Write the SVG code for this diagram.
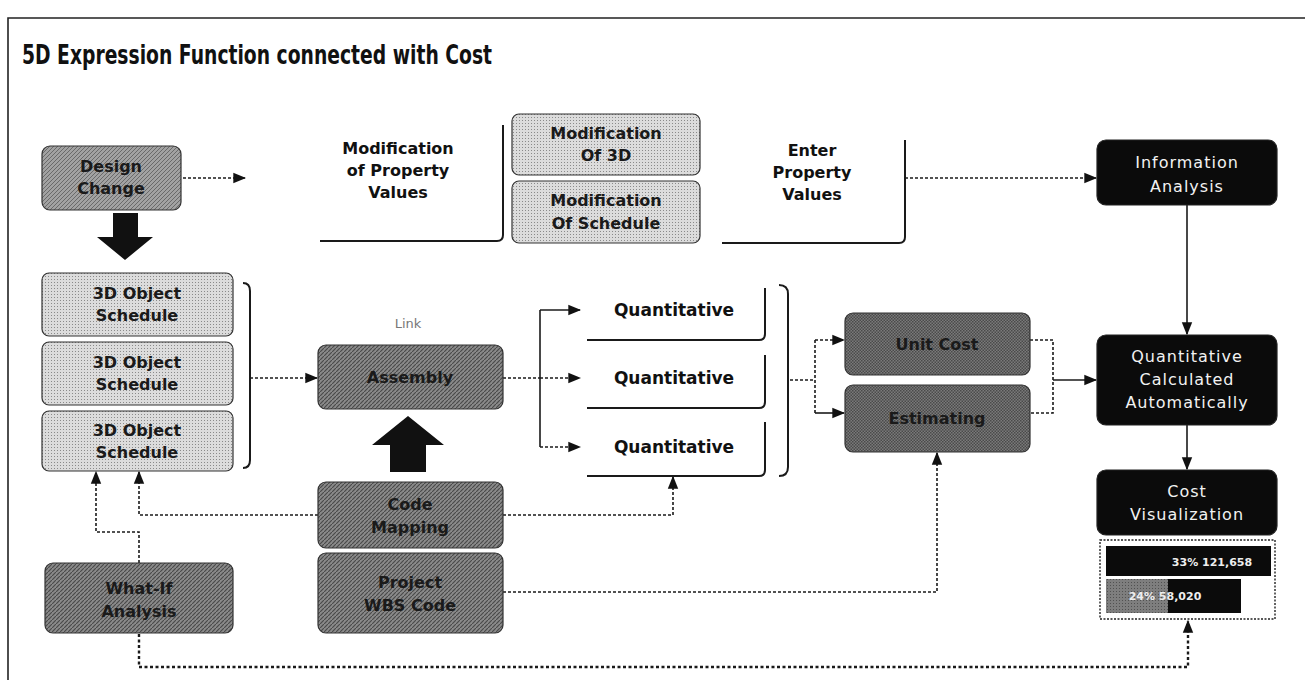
<svg xmlns="http://www.w3.org/2000/svg" width="1305" height="680" viewBox="0 0 1305 680">
  <defs>
    <pattern id="dotLight" width="3" height="3" patternUnits="userSpaceOnUse">
      <rect width="3" height="3" fill="#dcdcdc"/>
      <rect width="1" height="1" fill="#8a8a8a"/>
    </pattern>
    <pattern id="hatchMid" width="4" height="4" patternUnits="userSpaceOnUse">
      <rect width="4" height="4" fill="#a2a2a2"/>
      <path d="M0,4 L4,0" stroke="#6a6a6a" stroke-width="1"/>
    </pattern>
    <pattern id="hatchDark" width="4" height="4" patternUnits="userSpaceOnUse">
      <rect width="4" height="4" fill="#8a8a8a"/>
      <path d="M0,4 L4,0" stroke="#4a4a4a" stroke-width="1.2"/>
    </pattern>
    <pattern id="checkDark" width="3" height="3" patternUnits="userSpaceOnUse">
      <rect width="3" height="3" fill="#7a7a7a"/>
      <rect width="1.5" height="1.5" fill="#4a4a4a"/>
      <rect x="1.5" y="1.5" width="1.5" height="1.5" fill="#4a4a4a"/>
    </pattern>
    <marker id="arr" viewBox="0 0 10 10" refX="9" refY="5" markerWidth="13" markerHeight="13" orient="auto" markerUnits="userSpaceOnUse">
      <path d="M0,1 L10,5 L0,9 Z" fill="#111"/>
    </marker>
    <style>
      text { font-family: "DejaVu Sans", "Liberation Sans", sans-serif; text-anchor: middle; }
      .title { font-size: 27px; font-weight: bold; text-anchor: start; fill: #111; }
      .lbl { font-size: 16px; font-weight: bold; fill: #1a1a1a; }
      .plain { font-size: 16px; font-weight: bold; fill: #111; }
      .quant { font-size: 17px; font-weight: bold; fill: #111; }
      .wht { font-size: 16px; fill: #f2f2f2; letter-spacing: 1px; }
      .link { font-size: 13px; fill: #777; }
      .chart { font-size: 11px; fill: #eee; font-weight: bold; }
      .box { stroke: #333; stroke-width: 1.2; }
      .blk { fill: #0b0b0b; stroke: #222; stroke-width: 1.2; }
      .brk { fill: none; stroke: #1a1a1a; stroke-width: 2; }
      .dot { fill: none; stroke: #1a1a1a; stroke-width: 1.6; stroke-dasharray: 3 2; }
      .sol { fill: none; stroke: #1a1a1a; stroke-width: 1.6; }
      .heavy { fill: none; stroke: #1a1a1a; stroke-width: 2.4; stroke-dasharray: 3 2.5; }
      .big { fill: #111; }
    </style>
  </defs>

  <rect width="1305" height="680" fill="#ffffff"/>

  <!-- frame -->
  <path d="M8,680 V18 H1305" fill="none" stroke="#222" stroke-width="1.6"/>

  <text class="title" x="22" y="64" textLength="470" lengthAdjust="spacingAndGlyphs">5D Expression Function connected with Cost</text>

  <!-- connectors -->
  <g id="connectors">
    <line class="dot" x1="183" y1="178" x2="245" y2="178" marker-end="url(#arr)"/>
    <line class="dot" x1="905" y1="178" x2="1096" y2="178" marker-end="url(#arr)"/>
    <line class="sol" x1="1187" y1="205" x2="1187" y2="334" marker-end="url(#arr)"/>
    <line class="sol" x1="1187" y1="425" x2="1187" y2="469" marker-end="url(#arr)"/>
    <!-- schedules into assembly -->
    <line class="dot" x1="250" y1="378" x2="317" y2="378" marker-end="url(#arr)"/>
    <!-- assembly fan-out -->
    <path class="dot" d="M503,378 H540"/>
    <path class="sol" d="M540,310 V447"/>
    <line class="sol" x1="540" y1="310" x2="580" y2="310" marker-end="url(#arr)"/>
    <line class="dot" x1="540" y1="378" x2="580" y2="378" marker-end="url(#arr)"/>
    <line class="dot" x1="540" y1="447" x2="580" y2="447" marker-end="url(#arr)"/>
    <!-- quantities to cost -->
    <path class="dot" d="M790,380 H815"/>
    <path class="dot" d="M815,340 V413"/>
    <line class="dot" x1="815" y1="340" x2="844" y2="340" marker-end="url(#arr)"/>
    <line class="sol" x1="815" y1="413" x2="844" y2="413" marker-end="url(#arr)"/>
    <path class="dot" d="M1030,340 H1053 V413 H1030"/>
    <line class="sol" x1="1053" y1="380" x2="1096" y2="380" marker-end="url(#arr)"/>
    <!-- code mapping -->
    <path class="dot" d="M318,515 H139 V472" marker-end="url(#arr)"/>
    <path class="dot" d="M503,515 H673 V477" marker-end="url(#arr)"/>
    <!-- what-if -->
    <path class="dot" d="M139,563 V532 H96 V472" marker-end="url(#arr)"/>
    <!-- project wbs code -->
    <path class="dot" d="M503,592 H937 V453" marker-end="url(#arr)"/>
    <!-- feedback to chart -->
    <path class="heavy" d="M139,634 V667 H1188 V621" marker-end="url(#arr)"/>
  </g>

  <!-- big block arrows -->
  <polygon class="big" points="113,213 138,213 138,237 153,237 125,260 97,237 113,237"/>
  <polygon class="big" points="408,416 444,445 426,445 426,472 390,472 390,445 372,445"/>

  <g id="design-change">
    <rect class="box" x="42" y="146" width="139" height="64" rx="8" fill="url(#hatchMid)"/>
    <text class="lbl" x="111" y="172">Design</text>
    <text class="lbl" x="111" y="194">Change</text>
  </g>

  <g id="modification-property">
    <text class="plain" x="398" y="154">Modification</text>
    <text class="plain" x="398" y="176">of Property</text>
    <text class="plain" x="398" y="198">Values</text>
    <path class="brk" d="M320,241 H497 Q503,241 503,235 V125"/>
  </g>

  <g id="modification-3d">
    <rect class="box" x="512" y="114" width="188" height="61" rx="7" fill="url(#dotLight)"/>
    <text class="lbl" x="606" y="139">Modification</text>
    <text class="lbl" x="606" y="161">Of 3D</text>
  </g>

  <g id="modification-schedule">
    <rect class="box" x="512" y="181" width="188" height="62" rx="7" fill="url(#dotLight)"/>
    <text class="lbl" x="606" y="206">Modification</text>
    <text class="lbl" x="606" y="229">Of Schedule</text>
  </g>

  <g id="enter-property">
    <text class="plain" x="812" y="156">Enter</text>
    <text class="plain" x="812" y="178">Property</text>
    <text class="plain" x="812" y="200">Values</text>
    <path class="brk" d="M722,243 H899 Q905,243 905,237 V140"/>
  </g>

  <g id="information-analysis">
    <rect class="blk" x="1097" y="140" width="180" height="65" rx="9"/>
    <text class="wht" x="1187" y="168">Information</text>
    <text class="wht" x="1187" y="192">Analysis</text>
  </g>

  <g id="schedule-1">
    <rect class="box" x="42" y="273" width="191" height="63" rx="7" fill="url(#dotLight)"/>
    <text class="lbl" x="137" y="299">3D Object</text>
    <text class="lbl" x="137" y="321">Schedule</text>
  </g>
  <g id="schedule-2">
    <rect class="box" x="42" y="342" width="191" height="63" rx="7" fill="url(#dotLight)"/>
    <text class="lbl" x="137" y="368">3D Object</text>
    <text class="lbl" x="137" y="390">Schedule</text>
  </g>
  <g id="schedule-3">
    <rect class="box" x="42" y="411" width="191" height="60" rx="7" fill="url(#dotLight)"/>
    <text class="lbl" x="137" y="436">3D Object</text>
    <text class="lbl" x="137" y="458">Schedule</text>
  </g>
  <path class="brk" d="M243,283 Q250,283 250,291 V460 Q250,468 243,468"/>

  <g id="assembly">
    <text class="link" x="408" y="328">Link</text>
    <rect class="box" x="318" y="345" width="185" height="64" rx="8" fill="url(#hatchDark)"/>
    <text class="lbl" x="410" y="383">Assembly</text>
  </g>

  <g id="quantitative-1">
    <text class="quant" x="674" y="316">Quantitative</text>
    <path class="brk" d="M587,340 H759 Q765,340 765,334 V288"/>
  </g>
  <g id="quantitative-2">
    <text class="quant" x="674" y="384">Quantitative</text>
    <path class="brk" d="M587,408 H759 Q765,408 765,402 V355"/>
  </g>
  <g id="quantitative-3">
    <text class="quant" x="674" y="453">Quantitative</text>
    <path class="brk" d="M587,476 H759 Q765,476 765,470 V422"/>
  </g>
  <path class="brk" d="M779,285 Q788,285 788,294 V467 Q788,476 779,476"/>

  <g id="unit-cost">
    <rect class="box" x="845" y="313" width="185" height="62" rx="8" fill="url(#checkDark)"/>
    <text class="lbl" x="937" y="350">Unit Cost</text>
  </g>
  <g id="estimating">
    <rect class="box" x="845" y="385" width="185" height="67" rx="8" fill="url(#checkDark)"/>
    <text class="lbl" x="937" y="424">Estimating</text>
  </g>

  <g id="quantitative-calculated">
    <rect class="blk" x="1097" y="335" width="180" height="90" rx="9"/>
    <text class="wht" x="1187" y="362">Quantitative</text>
    <text class="wht" x="1187" y="385">Calculated</text>
    <text class="wht" x="1187" y="408">Automatically</text>
  </g>

  <g id="cost-visualization">
    <rect class="blk" x="1097" y="470" width="180" height="65" rx="9"/>
    <text class="wht" x="1187" y="497">Cost</text>
    <text class="wht" x="1187" y="520">Visualization</text>
  </g>

  <g id="cost-chart">
    <rect x="1100" y="540" width="175" height="79" fill="#fff" stroke="#222" stroke-width="1.4" stroke-dasharray="2 1.5"/>
    <rect x="1106" y="546" width="165" height="30" fill="#0b0b0b"/>
    <rect x="1106" y="579" width="135" height="34" fill="#0b0b0b"/>
    <rect x="1106" y="579" width="62" height="34" fill="url(#dotLight)" opacity="0.55"/>
    <text class="chart" x="1212" y="566">33%  121,658</text>
    <text class="chart" x="1165" y="600">24%  58,020</text>
  </g>

  <g id="code-mapping">
    <rect class="box" x="318" y="482" width="185" height="66" rx="8" fill="url(#hatchDark)"/>
    <text class="lbl" x="410" y="510">Code</text>
    <text class="lbl" x="410" y="533">Mapping</text>
  </g>

  <g id="project-wbs-code">
    <rect class="box" x="318" y="553" width="185" height="80" rx="8" fill="url(#hatchDark)"/>
    <text class="lbl" x="410" y="588">Project</text>
    <text class="lbl" x="410" y="611">WBS Code</text>
  </g>

  <g id="what-if-analysis">
    <rect class="box" x="45" y="563" width="188" height="70" rx="8" fill="url(#hatchDark)"/>
    <text class="lbl" x="139" y="594">What-If</text>
    <text class="lbl" x="139" y="617">Analysis</text>
  </g>
</svg>
